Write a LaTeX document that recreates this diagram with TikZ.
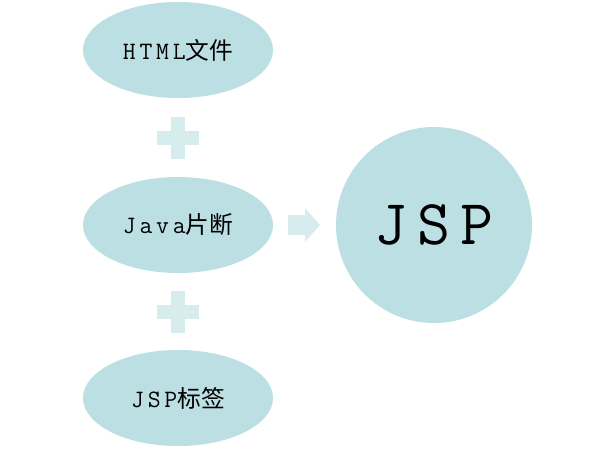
\documentclass[tikz,border=0pt]{standalone}
\usepackage{fontspec}
\setmainfont{Latin Modern Mono}[LetterSpace=15]
\newfontfamily\cjk{Noto Sans CJK SC}[Scale=0.95]
\usetikzlibrary{shapes.geometric}
\definecolor{ell}{HTML}{BCDFE3}
\definecolor{plus}{HTML}{D7ECEC}
\tikzset{oval/.style={ellipse,fill=ell,minimum width=190pt,minimum height=96pt,inner sep=0pt,font=\fontsize{25}{27}\selectfont},
plusfill/.style={fill=plus,draw=none}}
\begin{document}
\begin{tikzpicture}[x=1pt,y=-1pt]
\useasboundingbox (0,0) rectangle (616,451);
\node[oval] (html) at (178,50) {HTML{\cjk 文件}};
\node[oval] (java) at (178,225) {Java{\cjk 片断}};
\node[oval] (tag) at (178,398) {JSP{\cjk 标签}};
\node[circle,fill=ell,minimum size=196pt,inner sep=0pt,font=\fontsize{64}{68}\selectfont] (jsp) at (434,225) {JSP};
\foreach \y/\n in {138/p1,312/p2}{
  \coordinate (\n) at (178,\y);
  \fill[plusfill] ([xshift=-21,yshift=-7]\n) rectangle ([xshift=21,yshift=7]\n);
  \fill[plusfill] ([xshift=-7,yshift=-21]\n) rectangle ([xshift=7,yshift=21]\n);
}
\fill[plusfill] (288,215) -- (305,215) -- (305,208) -- (320,225) -- (305,242) -- (305,235) -- (288,235) -- cycle;
\end{tikzpicture}
\end{document}
